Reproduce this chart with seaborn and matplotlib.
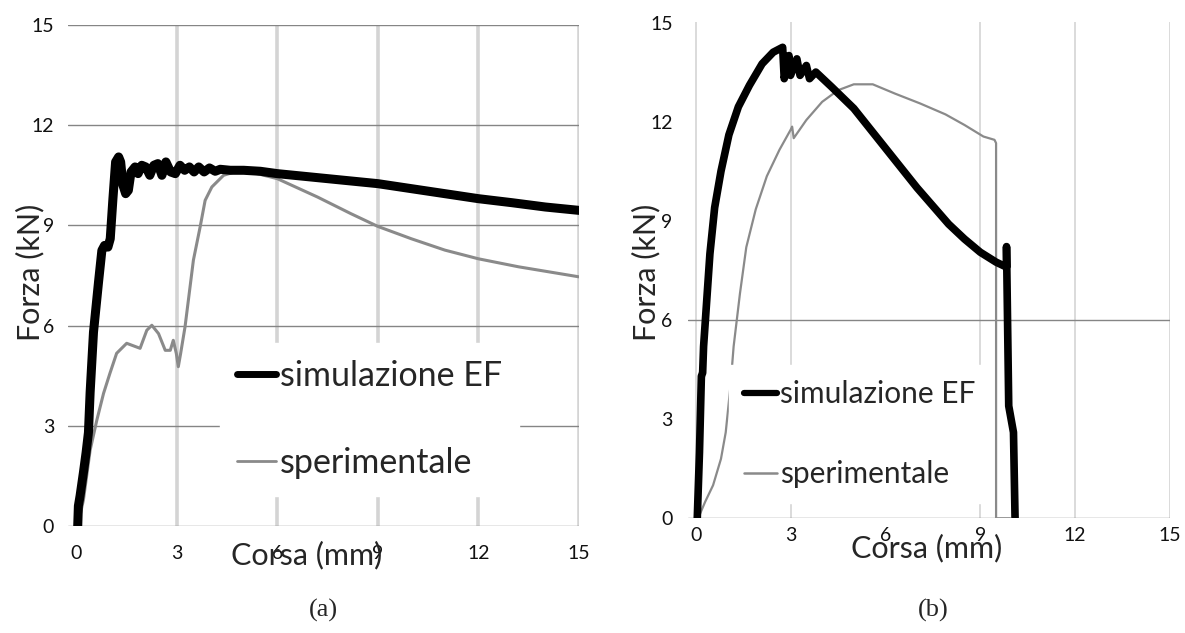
import matplotlib
matplotlib.use("Agg")
import matplotlib.pyplot as plt
import pandas as pd
import seaborn as sns
from matplotlib.lines import Line2D

# ------------------------------------------------------------
# data read off the two force / stroke curves
# ------------------------------------------------------------
# (a) simulazione EF
a_sim_x = [0.05, 0.07, 0.12, 0.22, 0.30, 0.37, 0.42, 0.47, 0.52, 0.57, 0.67, 0.77,
           0.85, 0.95, 1.02, 1.10, 1.18, 1.27, 1.33, 1.40, 1.48, 1.56, 1.64, 1.76,
           1.85, 1.96, 2.08, 2.20, 2.32, 2.44, 2.56, 2.68, 2.82, 2.96, 3.10, 3.24,
           3.38, 3.52, 3.66, 3.82, 3.98, 4.15, 4.30, 4.60, 5.00, 5.50, 6.00, 7.00,
           8.00, 9.00, 10.0, 11.0, 12.0, 13.0, 14.0, 15.0]
a_sim_y = [0.00, 0.60, 0.90, 1.60, 2.20, 2.80, 4.00, 4.90, 5.80, 6.30, 7.30, 8.25,
           8.40, 8.35, 8.60, 9.80, 10.9, 11.05, 10.9, 10.2, 9.95, 10.05, 10.6, 10.75,
           10.55, 10.8, 10.75, 10.5, 10.8, 10.85, 10.5, 10.9, 10.6, 10.55, 10.8, 10.65,
           10.75, 10.6, 10.75, 10.6, 10.72, 10.62, 10.68, 10.65, 10.65, 10.62, 10.55, 10.45,
           10.35, 10.25, 10.1, 9.95, 9.80, 9.68, 9.55, 9.45]

# (a) sperimentale
a_exp_x = [0.05, 0.22, 0.42, 0.62, 0.82, 1.01, 1.21, 1.51, 1.91, 2.11, 2.26, 2.46,
           2.66, 2.81, 2.90, 2.99, 3.05, 3.12, 3.25, 3.35, 3.50, 3.70, 3.85, 4.05,
           4.40, 4.80, 5.20, 6.00, 7.20, 8.20, 9.00, 10.0, 11.0, 12.0, 13.2, 15.0]
a_exp_y = [0.00, 0.78, 2.27, 3.17, 3.97, 4.57, 5.17, 5.47, 5.32, 5.86, 6.01, 5.76,
           5.26, 5.26, 5.56, 5.17, 4.77, 5.17, 5.96, 6.76, 7.96, 8.95, 9.75, 10.15,
           10.50, 10.62, 10.60, 10.40, 9.85, 9.35, 8.97, 8.60, 8.26, 8.00, 7.76, 7.46]

# (b) simulazione EF
b_sim_x = [0.05, 0.12, 0.18, 0.22, 0.25, 0.35, 0.45, 0.60, 0.80, 1.05, 1.35, 1.70,
           2.10, 2.45, 2.75, 2.80, 2.95, 3.00, 3.20, 3.30, 3.50, 3.60, 3.80, 4.30,
           5.00, 6.00, 7.00, 8.00, 8.50, 9.00, 9.50, 9.83, 9.83, 9.90, 10.05, 10.10]
b_sim_y = [0.00, 2.00, 4.30, 4.40, 5.20, 6.60, 8.00, 9.40, 10.5, 11.6, 12.45, 13.1,
           13.75, 14.1, 14.25, 13.3, 14.0, 13.4, 13.9, 13.4, 13.7, 13.3, 13.5, 13.05,
           12.4, 11.2, 10.0, 8.90, 8.45, 8.05, 7.75, 7.60, 8.22, 3.40, 2.60, 0.00]

# (b) sperimentale
b_exp_x = [0.10, 0.30, 0.55, 0.80, 0.95, 1.10, 1.20, 1.40, 1.60, 1.90, 2.25, 2.65,
           3.00, 3.05, 3.10, 3.50, 4.00, 4.50, 5.00, 5.60, 6.30, 7.10, 7.90, 8.50,
           9.10, 9.45, 9.50, 9.50, 9.95]
b_exp_y = [0.05, 0.50, 1.00, 1.80, 2.60, 4.00, 5.20, 6.80, 8.20, 9.35, 10.35, 11.15,
           11.75, 11.85, 11.50, 12.05, 12.60, 12.95, 13.13, 13.13, 12.85, 12.55, 12.22, 11.90,
           11.55, 11.45, 11.35, 0.00, 0.00]

ticks = [0, 3, 6, 9, 12, 15]
labels = ["simulazione EF", "sperimentale"]
panel_tags = ["(a)", "(b)"]

GRAY = "#8a8a8a"
FONT = "Lato"


def frame(x, y):
    return pd.DataFrame({"x": x, "y": y})


def style_axes(ax, xmin, hgrid, vgrid, vlw):
    ax.set_xlim(xmin, 15)
    ax.set_ylim(0, 15)
    for s in ax.spines.values():
        s.set_visible(False)
    # minor ticks sit on the major ones -> keep them, they carry the grid
    ax.xaxis.remove_overlapping_locs = False
    ax.yaxis.remove_overlapping_locs = False
    ax.set_xticks(ticks)
    ax.set_yticks(ticks)
    ax.set_xticks(vgrid, minor=True)
    ax.set_yticks(hgrid, minor=True)
    ax.grid(False)
    ax.xaxis.grid(True, which="minor", color="#d4d4d4", linewidth=vlw)
    ax.yaxis.grid(True, which="minor", color="#858585", linewidth=1.0)
    ax.tick_params(which="major", length=0, labelsize=14, labelcolor="#111111")
    ax.tick_params(axis="x", which="minor", length=6, width=vlw, color="#d4d4d4",
                   direction="out")
    ax.tick_params(axis="y", which="minor", length=0)
    ax.set_axisbelow(True)
    for t in ax.get_xticklabels() + ax.get_yticklabels():
        t.set_fontfamily(FONT)
    ax.set_xlabel("Corsa (mm)", fontsize=22, family=FONT)
    ax.set_ylabel("Forza (kN)", fontsize=22, family=FONT)


sns.set_style("white")
plt.rcParams["font.family"] = [FONT, "DejaVu Sans"]

fig = plt.figure(figsize=(11.85, 6.33), dpi=100)
W, H = 1185, 633

# ---------------- (a) ----------------
axL = fig.add_axes([68 / W, (H - 526) / H, 511 / W, 501 / H])
sns.lineplot(data=frame(a_exp_x, a_exp_y), x="x", y="y", sort=False, estimator=None,
             color=GRAY, lw=2.2, ax=axL, zorder=3)
sns.lineplot(data=frame(a_sim_x, a_sim_y), x="x", y="y", sort=False, estimator=None,
             color="black", lw=6.5, ax=axL, zorder=4)
style_axes(axL, -0.24, ticks, ticks[1:], 2.6)
axL.tick_params(axis="x", which="major", pad=14)
axL.tick_params(axis="y", which="major", pad=10)
axL.xaxis.set_label_coords(0.466, -0.03)
axL.yaxis.set_label_coords(-0.047, 0.507)

hL = [Line2D([], [], color="black", lw=5), Line2D([], [], color=GRAY, lw=2)]
axL.legend(hL, labels, loc="upper left", bbox_to_anchor=(0.2975, 0.365),
           frameon=True, facecolor="white", edgecolor="white", framealpha=1,
           fancybox=False, prop={"family": FONT, "size": 24.5},
           handlelength=1.15, handletextpad=0.1, labelspacing=1.6,
           borderpad=0.5, borderaxespad=0)

# ---------------- (b) ----------------
axR = fig.add_axes([688 / W, (H - 518.3) / H, 482 / W, 495.8 / H])
sns.lineplot(data=frame(b_exp_x, b_exp_y), x="x", y="y", sort=False, estimator=None,
             color=GRAY, lw=1.6, ax=axR, zorder=3)
sns.lineplot(data=frame(b_sim_x, b_sim_y), x="x", y="y", sort=False, estimator=None,
             color="black", lw=5.5, ax=axR, zorder=4)
style_axes(axR, -0.243, [0, 6], [0, 3, 9, 12, 15], 1.2)
axR.tick_params(axis="x", which="major", pad=6)
axR.tick_params(axis="y", which="major", pad=11)
axR.xaxis.set_label_coords(0.496, -0.032)
axR.yaxis.set_label_coords(-0.058, 0.497)

hR = [Line2D([], [], color="black", lw=4.5), Line2D([], [], color=GRAY, lw=1.8)]
axR.legend(hR, labels, loc="upper left", bbox_to_anchor=(0.085, 0.309),
           frameon=True, facecolor="white", edgecolor="white", framealpha=1,
           fancybox=False, prop={"family": FONT, "size": 21.5},
           handlelength=1.1, handletextpad=0.1, labelspacing=1.74,
           borderpad=0.5, borderaxespad=0)

# panel tags
fig.text(323 / W, 1 - 610 / H, panel_tags[0], ha="center", va="center",
         family="Liberation Serif", fontsize=19)
fig.text(933 / W, 1 - 610 / H, panel_tags[1], ha="center", va="center",
         family="Liberation Serif", fontsize=19)

fig.savefig("out.png", dpi=100, facecolor="white")
